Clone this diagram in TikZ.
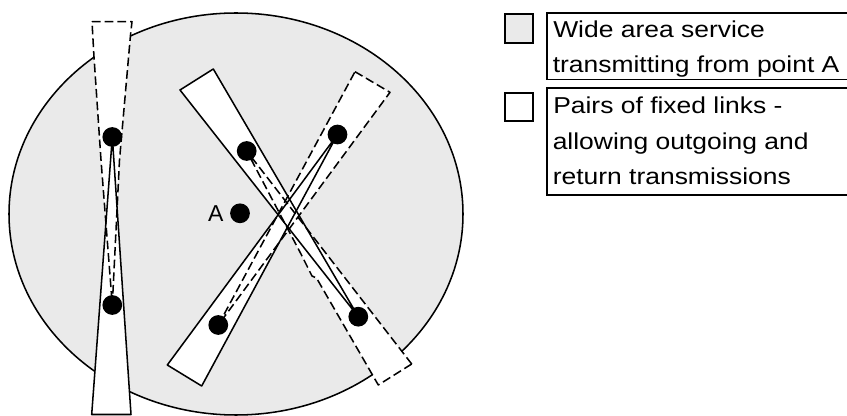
\documentclass[tikz,border=0pt]{standalone}
\usepackage{fontspec}
\setmainfont{Liberation Sans}
\newfontfamily\legendfont[FakeStretch=1.15]{Liberation Sans}
\definecolor{areagray}{RGB}{234,234,234}
\begin{document}
\begin{tikzpicture}[x=0.75pt,y=-0.75pt,
  area/.style={fill=areagray,draw=black,line width=1.15pt},
  beamfill/.style={fill=white},
  solidbeam/.style={draw=black,line width=1.15pt,line join=round},
  dashbeam/.style={draw=black,line width=1.15pt,line join=round,dash pattern=on 6.5pt off 3pt},
  dot/.style={circle,fill=black,minimum size=14.8pt,inner sep=0pt},
  lbl/.style={font=\fontsize{17.25}{20}\selectfont,inner sep=0pt,anchor=base},
  legtext/.style={font=\legendfont\fontsize{17.25}{20}\selectfont,inner sep=0pt,anchor=base west},
  legbox/.style={draw=black,line width=1.4pt}]
\useasboundingbox (0,0) rectangle (847,416);
\fill[white] (0,0) rectangle (847,416);
% coordinates of the stations
\coordinate (pVU) at (112.3,137);
\coordinate (pVL) at (112.3,305);
\coordinate (pL1) at (246.7,151);
\coordinate (pR1) at (337.5,134.5);
\coordinate (pL2) at (218.3,325);
\coordinate (pR2) at (358.3,316.7);
\coordinate (pA) at (240,213.3);
% service area
\draw[area] (236,214) ellipse [x radius=227, y radius=201];
% beam fills
\fill[beamfill] (91.7,414.5) -- (131,414.5) -- (pVU) -- cycle;
\fill[beamfill] (92,21.7) -- (132,21.7) -- (130.5,35) -- (119.5,160) -- (pVL) -- (101,160) -- (94,57) -- cycle;
\fill[beamfill] (180,90) -- (213.3,69) -- (pR2) -- cycle;
\fill[beamfill] (411.7,364) -- (378.3,385) -- (316.5,278) -- (312,276) -- (301,254) -- (pL1) -- cycle;
\fill[beamfill] (167.3,365) -- (201.7,386) -- (pR1) -- cycle;
\fill[beamfill] (355,71.7) -- (390,92.3) -- (pL2) -- cycle;
% beam outlines
\draw[solidbeam] (91.7,414.5) -- (131,414.5) -- (pVU) -- cycle;
\draw[dashbeam] (92,21.7) -- (132,21.7) -- (130.5,35) -- (119.5,160) -- (pVL) -- (101,160) -- (94,57) -- cycle;
\draw[solidbeam] (180,90) -- (213.3,69) -- (pR2) -- cycle;
\draw[dashbeam] (411.7,364) -- (378.3,385) -- (316.5,278) -- (312,276) -- (301,254) -- (pL1) -- cycle;
\draw[solidbeam] (167.3,365) -- (201.7,386) -- (pR1) -- cycle;
\draw[dashbeam] (355,71.7) -- (390,92.3) -- (pL2) -- cycle;
% stations
\node[dot] (vu) at (pVU) {};
\node[dot] (vl) at (pVL) {};
\node[dot] (l1) at (pL1) {};
\node[dot] (r1) at (pR1) {};
\node[dot] (l2) at (pL2) {};
\node[dot] (r2) at (pR2) {};
\node[dot] (a) at (pA) {};
\node[lbl] (labA) at (215.8,221.7) {A};
% legend
\draw[legbox,fill=areagray] (505,14) rectangle (533.3,42.7);
\draw[legbox,fill=white] (505,92.7) rectangle (533.3,120.7);
\draw[legbox] (847,12.7) -- (547.3,12.7) -- (547.3,79.5) -- (847,79.5);
\draw[legbox] (847,88.3) -- (547.3,88.3) -- (547.3,195) -- (847,195);
\node[legtext] (t1a) at (553,37.2) {Wide area service};
\node[legtext] (t1b) at (552.5,72.2) {transmitting from point A};
\node[legtext] (t2a) at (553,113.5) {Pairs of fixed links -};
\node[legtext] (t2b) at (552.5,149.3) {allowing outgoing and};
\node[legtext] (t2c) at (552.5,185) {return transmissions};
\end{tikzpicture}
\end{document}
